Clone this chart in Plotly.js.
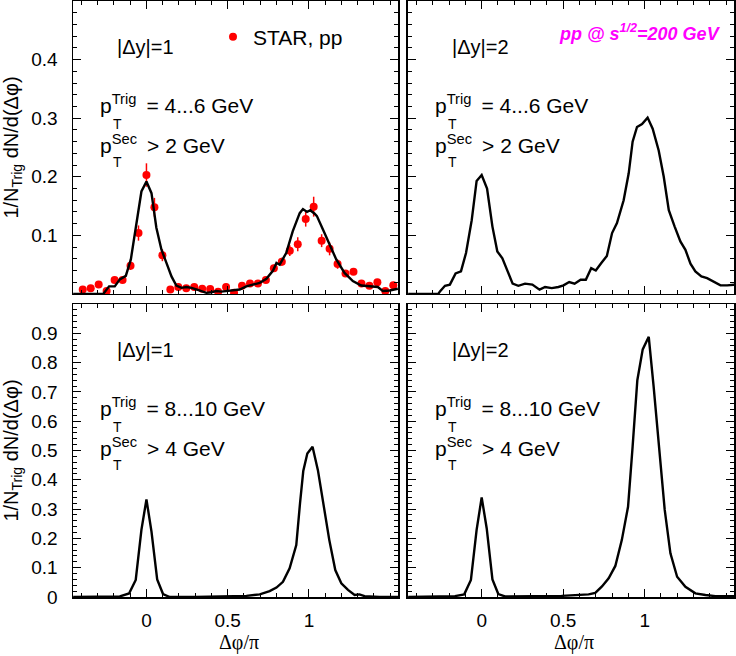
<!DOCTYPE html>
<html><head><meta charset="utf-8">
<script src="https://cdn.plot.ly/plotly-3.0.1.min.js"></script>
<style>html,body{margin:0;padding:0;background:#fff}#chart{width:736px;height:656px}</style>
</head><body><div id="chart"></div>
<script>
// ---- STAR pp data (top-left panel) ----
const starX = [-0.392,-0.343,-0.294,-0.245,-0.196,-0.147,-0.098,-0.049,0,0.049,0.098,0.147,0.196,0.245,0.294,0.343,0.392,0.441,0.49,0.539,0.588,0.637,0.686,0.735,0.784,0.833,0.882,0.931,0.98,1.029,1.078,1.127,1.176,1.225,1.274,1.323,1.372,1.421,1.47,1.519];
const starY = [0.0075,0.010,0.016,0.005,0.024,0.024,0.048,0.104,0.203,0.148,0.066,0.0075,0.012,0.010,0.012,0.009,0.0085,0.004,0.012,0.002,0.014,0.018,0.018,0.024,0.044,0.055,0.074,0.085,0.128,0.149,0.091,0.077,0.051,0.035,0.038,0.018,0.014,0.020,0.005,0.015];
const starErr = [0.004,0.004,0.004,0.004,0.004,0.004,0.007,0.013,0.020,0.016,0.010,0.004,0.004,0.004,0.004,0.004,0.004,0.004,0.004,0.004,0.004,0.004,0.004,0.004,0.006,0.007,0.009,0.012,0.013,0.017,0.011,0.011,0.008,0.006,0.005,0.005,0.005,0.005,0.005,0.005];

// ---- model curves ----
const tlX = [-0.451,-0.266,-0.230,-0.195,-0.164,-0.127,-0.096,-0.066,-0.031,0,0.031,0.061,0.092,0.123,0.154,0.184,0.215,0.246,0.277,0.307,0.338,0.369,0.40,0.43,0.461,0.492,0.512,0.574,0.615,0.697,0.738,0.779,0.80,0.82,0.86,0.90,0.943,0.963,0.988,1.008,1.035,1.049,1.086,1.127,1.168,1.219,1.27,1.322,1.373,1.424,1.455,1.496,1.547];
const tlY = [0,0,0.013,0.013,0.025,0.031,0.059,0.110,0.175,0.192,0.172,0.113,0.076,0.053,0.030,0.0145,0.0105,0.012,0.0105,0.0077,0.005,0.002,0.003,0.005,0.004,0.005,0.005,0.0077,0.013,0.019,0.026,0.040,0.053,0.050,0.070,0.107,0.138,0.145,0.140,0.143,0.137,0.133,0.110,0.084,0.059,0.036,0.022,0.0145,0.013,0.012,0.005,0.006,0.009];

const trX = [-0.451,-0.266,-0.256,-0.225,-0.195,-0.16,-0.127,-0.096,-0.061,-0.031,0,0.033,0.066,0.096,0.127,0.16,0.19,0.225,0.266,0.311,0.355,0.389,0.43,0.471,0.502,0.537,0.57,0.607,0.639,0.672,0.70,0.734,0.768,0.80,0.83,0.871,0.902,0.926,0.953,0.984,1.018,1.049,1.086,1.117,1.148,1.184,1.219,1.25,1.281,1.311,1.348,1.383,1.424,1.465,1.506,1.553];
const trY = [0,0,0.0045,0.014,0.016,0.035,0.0385,0.070,0.126,0.193,0.203,0.180,0.115,0.0726,0.061,0.0385,0.0176,0.014,0.0176,0.016,0.0074,0.012,0.010,0.012,0.0147,0.0204,0.0176,0.0244,0.0244,0.044,0.040,0.053,0.065,0.104,0.121,0.160,0.206,0.260,0.285,0.290,0.301,0.282,0.245,0.200,0.143,0.115,0.0896,0.0754,0.0516,0.0385,0.030,0.027,0.0215,0.0147,0.0147,0.016];

const blX = [-0.451,-0.266,-0.164,-0.107,-0.066,-0.031,0,0.031,0.066,0.102,0.143,0.30,0.49,0.615,0.697,0.758,0.80,0.84,0.881,0.922,0.945,0.965,0.99,1.022,1.055,1.088,1.125,1.162,1.199,1.24,1.281,1.311,1.342,1.434,1.553];
const blY = [0,0,0.002,0.012,0.058,0.229,0.333,0.223,0.060,0.010,0,0,0.002,0.004,0.009,0.020,0.032,0.052,0.098,0.177,0.320,0.430,0.490,0.513,0.433,0.320,0.195,0.092,0.047,0.024,0.007,0.009,0.003,0,0];

const brX = [-0.451,-0.164,-0.107,-0.066,-0.031,0,0.031,0.066,0.102,0.143,0.49,0.656,0.697,0.738,0.779,0.82,0.86,0.898,0.926,0.955,0.988,1.025,1.055,1.086,1.123,1.158,1.199,1.25,1.311,1.373,1.434,1.553];
const brY = [0,0.003,0.009,0.058,0.229,0.340,0.234,0.060,0.010,0.002,0.004,0.009,0.014,0.036,0.064,0.106,0.195,0.308,0.513,0.740,0.845,0.888,0.718,0.524,0.297,0.149,0.069,0.035,0.0125,0.0068,0.003,0.003];

// ---- ticks and labels ----
const xTickVals = [0, 0.5, 1];
const xTickText = ['0', '0.5', '1'];
const yTopTickVals = [0.1, 0.2, 0.3, 0.4];
const yTopTickText = ['0.1', '0.2', '0.3', '0.4'];
const yBotTickVals = [0, 0.1, 0.2, 0.3, 0.4, 0.5, 0.6, 0.7, 0.8, 0.9];
const yBotTickText = ['0', '0.1', '0.2', '0.3', '0.4', '0.5', '0.6', '0.7', '0.8', '0.9'];
const xTitle = 'Δφ/π';
const yTitle = '1/N<sub>Trig</sub> dN/d(Δφ)';
const dyLabels = ['|Δy|=1', '|Δy|=2', '|Δy|=1', '|Δy|=2'];
const trigLabels = ['= 4...6 GeV', '= 4...6 GeV', '= 8...10 GeV', '= 8...10 GeV'];
const secLabels = ['> 2 GeV', '> 2 GeV', '> 4 GeV', '> 4 GeV'];

const SANS = 'Liberation Sans, Arial, Helvetica, sans-serif';
const SERIF = 'Liberation Serif, Times New Roman, serif';
const GAP = '\u00a0\u2009';

const lineStyle = {color: '#000', width: 2.4};
const traces = [
  {x: starX, y: starY, type: 'scatter', mode: 'markers', name: 'STAR, pp', xaxis: 'x', yaxis: 'y',
   marker: {color: '#ff0000', size: 8},
   error_y: {type: 'data', array: starErr, visible: true, color: '#ff0000', thickness: 1.5, width: 0}},
  {x: tlX, y: tlY, type: 'scatter', mode: 'lines', line: lineStyle, showlegend: false, xaxis: 'x', yaxis: 'y'},
  {x: trX, y: trY, type: 'scatter', mode: 'lines', line: lineStyle, showlegend: false, xaxis: 'x2', yaxis: 'y2'},
  {x: blX, y: blY, type: 'scatter', mode: 'lines', line: lineStyle, showlegend: false, xaxis: 'x3', yaxis: 'y3'},
  {x: brX, y: brY, type: 'scatter', mode: 'lines', line: lineStyle, showlegend: false, xaxis: 'x4', yaxis: 'y4'}
];

const xDomL = [0, 0.4917], xDomR = [0.5068, 1];
const yDomT = [0.5084, 1], yDomB = [0, 0.4916];

function common() {
  return {ticks: 'inside', tickcolor: '#000', tickwidth: 1, showline: true, linecolor: '#000', linewidth: 1.5,
          mirror: 'allticks', showgrid: false, zeroline: false,
          tickfont: {family: SANS, size: 19, color: '#000'}};
}
function xAx(domain, anchor, labels) {
  return Object.assign(common(), {domain, anchor, range: [-0.452, 1.548], tickmode: 'array',
    tickvals: xTickVals, ticktext: xTickText, ticklen: 8,
    minor: {tickmode: 'linear', tick0: 0, dtick: 0.1, ticks: 'inside', ticklen: 4, tickcolor: '#000', tickwidth: 1},
    showticklabels: labels, ticklabelstandoff: 6});
}
function yAx(domain, anchor, top, labels) {
  const a = Object.assign(common(), {domain, anchor, range: top ? [0, 0.5] : [0, 1.0], tickmode: 'array',
    tickvals: top ? yTopTickVals : yBotTickVals, ticktext: top ? yTopTickText : yBotTickText, ticklen: 8,
    minor: {tickmode: 'linear', tick0: 0, dtick: 0.02, ticks: 'inside', ticklen: 4, tickcolor: '#000', tickwidth: 1},
    showticklabels: labels, ticklabelstandoff: 10});
  if (labels) a.title = {text: yTitle, font: {family: SANS, size: 20, color: '#000'}, standoff: 8};
  return a;
}

const annotations = [];
const refs = [['x domain', 'y domain'], ['x2 domain', 'y2 domain'], ['x3 domain', 'y3 domain'], ['x4 domain', 'y4 domain']];
refs.forEach(([xr, yr], i) => {
  const base = {xref: xr, yref: yr, showarrow: false, xanchor: 'left', yanchor: 'middle', borderpad: 0, borderwidth: 0};
  annotations.push(Object.assign({}, base, {x: 0.135, y: 0.843, text: dyLabels[i], font: {family: SANS, size: 20, color: '#000'}}));
  annotations.push(Object.assign({}, base, {x: 0.083, y: 0.648, text: 'p<sup>Trig</sup>' + GAP + trigLabels[i], font: {family: SANS, size: 21, color: '#000'}}));
  annotations.push(Object.assign({}, base, {x: 0.124, y: 0.581, text: 'T', font: {family: SANS, size: 14, color: '#000'}}));
  annotations.push(Object.assign({}, base, {x: 0.083, y: 0.513, text: 'p<sup>Sec</sup>' + GAP + secLabels[i], font: {family: SANS, size: 21, color: '#000'}}));
  annotations.push(Object.assign({}, base, {x: 0.124, y: 0.451, text: 'T', font: {family: SANS, size: 14, color: '#000'}}));
});
annotations.push({xref: 'x2 domain', yref: 'y2 domain', x: 0.966, y: 0.891, xanchor: 'right', yanchor: 'middle', showarrow: false,
  text: '<b><i>pp @ s<sup>1/2</sup>=200 GeV</i></b>', font: {family: SANS, size: 18, color: '#ff00ff'}});
['x3 domain', 'x4 domain'].forEach(xr => {
  annotations.push({xref: xr, yref: 'paper', x: 0.51, y: -0.077, xanchor: 'center', yanchor: 'middle', showarrow: false,
    borderpad: 0, text: xTitle, font: {family: SERIF, size: 20, color: '#000'}});
});

const layout = {
  width: 736, height: 656, margin: {l: 73, r: 2, t: 1, b: 59},
  paper_bgcolor: '#fff', plot_bgcolor: '#fff', showlegend: true,
  legend: {x: 0.2118, y: 0.9396, xanchor: 'left', yanchor: 'middle', bgcolor: 'rgba(0,0,0,0)', borderwidth: 0,
           font: {family: SANS, size: 21, color: '#000'}},
  xaxis: xAx(xDomL, 'y', false), yaxis: yAx(yDomT, 'x', true, true),
  xaxis2: xAx(xDomR, 'y2', false), yaxis2: yAx(yDomT, 'x2', true, false),
  xaxis3: xAx(xDomL, 'y3', true), yaxis3: yAx(yDomB, 'x3', false, true),
  xaxis4: xAx(xDomR, 'y4', true), yaxis4: yAx(yDomB, 'x4', false, false),
  annotations
};
Plotly.newPlot('chart', traces, layout, {displayModeBar: false, staticPlot: true});
</script></body></html>
